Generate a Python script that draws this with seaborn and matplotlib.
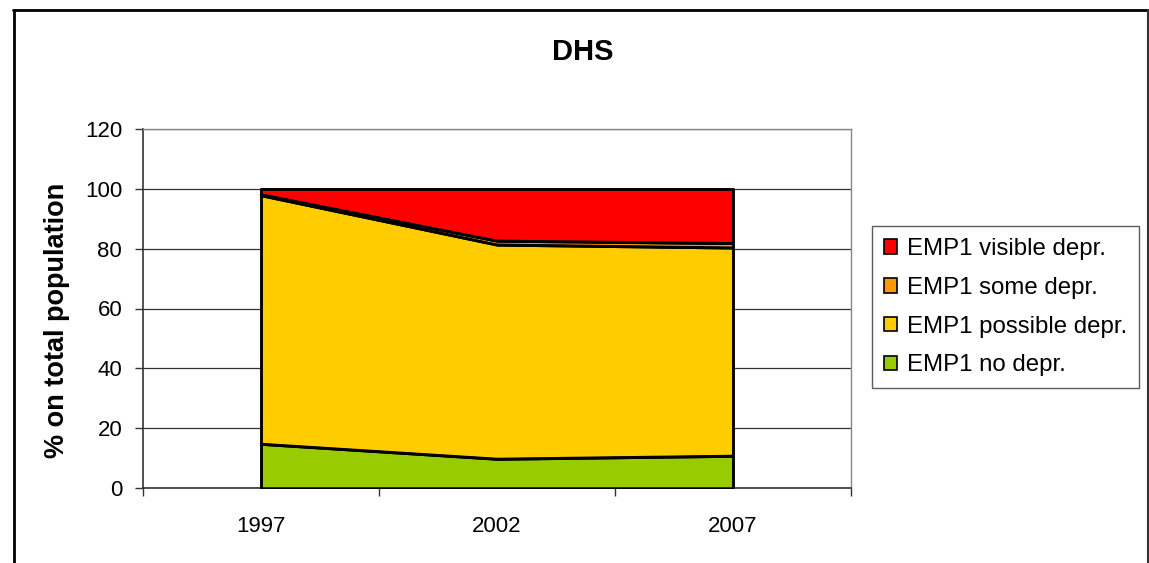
import matplotlib
matplotlib.use("Agg")
import matplotlib.pyplot as plt
import seaborn as sns
import pandas as pd
from matplotlib.patches import Patch
from matplotlib.lines import Line2D

years = ["1997", "2002", "2007"]
no_depr = [14.7, 9.7, 10.7]
possible_depr = [83.1, 71.6, 69.6]
some_depr = [0.3, 1.3, 1.5]
visible_depr = [1.9, 17.4, 18.2]

labels = ["EMP1 no depr.", "EMP1 possible depr.", "EMP1 some depr.", "EMP1 visible depr."]
colors = ["#99CC00", "#FFCC00", "#FF9900", "#FF0000"]
yticks = [0, 20, 40, 60, 80, 100, 120]

sns.set_style("white")
plt.rcParams["font.family"] = ["Liberation Sans", "DejaVu Sans"]
plt.rcParams["text.color"] = "black"
plt.rcParams["xtick.color"] = "black"
plt.rcParams["ytick.color"] = "black"
plt.rcParams["axes.labelcolor"] = "black"

W, H = 1149, 563
fig = plt.figure(figsize=(W / 100, H / 100), dpi=100)
ax = fig.add_axes([143 / W, 1 - 488 / H, (851 - 143) / W, (488 - 129) / H])

xpos = [0.5, 1.5, 2.5]
series = [no_depr, possible_depr, some_depr, visible_depr]
ax.stackplot(xpos, *series, colors=colors, edgecolor="black", linewidth=1.8, zorder=3)

# boundary lines on top of the fills
df = pd.DataFrame({"x": xpos})
cum = [0, 0, 0]
for vals in series:
    cum = [c + v for c, v in zip(cum, vals)]
    df["top"] = cum
    sns.lineplot(data=df, x="x", y="top", color="black", linewidth=1.8, ax=ax, zorder=4)
ax.plot([0.5, 0.5], [0, 100], color="black", lw=1.8, zorder=4)
ax.plot([2.5, 2.5], [0, 100], color="black", lw=1.8, zorder=4)

ax.set_xlim(0, 3)
ax.set_ylim(0, 120)
ax.set_yticks(yticks)
ax.set_xticks(xpos)
ax.set_xticklabels(years)
ax.set_xticks([0, 1, 2, 3], minor=True)
ax.tick_params(axis="x", which="major", length=0, pad=20, labelsize=16)
ax.tick_params(axis="x", which="minor", length=6, width=1, color="#333333", direction="out", bottom=True)
ax.tick_params(axis="y", length=6, width=1, color="#333333", direction="out", left=True, pad=9, labelsize=16)
ax.grid(axis="y", color="#333333", linewidth=0.9, zorder=0)
ax.set_axisbelow(True)
ax.set_xlabel("")
ax.set_ylabel("")
for s in ["left", "bottom"]:
    ax.spines[s].set_color("#333333")
    ax.spines[s].set_linewidth(1.2)
for s in ["top", "right"]:
    ax.spines[s].set_color("#888888")
    ax.spines[s].set_linewidth(1.0)

fig.text(57 / W, 1 - 320 / H, "% on total population", rotation=90, ha="center", va="center",
         fontsize=19.5, fontweight="bold")
fig.text(583 / W, 1 - 52 / H, "DHS", ha="center", va="center", fontsize=21, fontweight="bold")

handles = [Patch(facecolor=c, edgecolor="black", linewidth=1.2, label=l)
           for c, l in zip(colors[::-1], labels[::-1])]
leg = fig.legend(handles=handles, loc="upper left", bbox_to_anchor=(872 / W, 1 - 226 / H),
                 frameon=True, fancybox=False, fontsize=17.3, handlelength=0.55, handleheight=0.55,
                 handletextpad=0.4, labelspacing=0.7, borderpad=0.5, borderaxespad=0)
leg.get_frame().set_edgecolor("#333333")
leg.get_frame().set_linewidth(1.0)

# outer chart frame
fig.add_artist(Line2D([13.5 / W, 13.5 / W], [0, 1 - 10 / H], transform=fig.transFigure, color="black", lw=2))
fig.add_artist(Line2D([13 / W, 1147.5 / W], [1 - 10 / H, 1 - 10 / H], transform=fig.transFigure, color="black", lw=2))
fig.add_artist(Line2D([1147.5 / W, 1147.5 / W], [0, 1 - 10 / H], transform=fig.transFigure, color="#333333", lw=1.5))

fig.savefig("out.png", dpi=100, facecolor="white")
